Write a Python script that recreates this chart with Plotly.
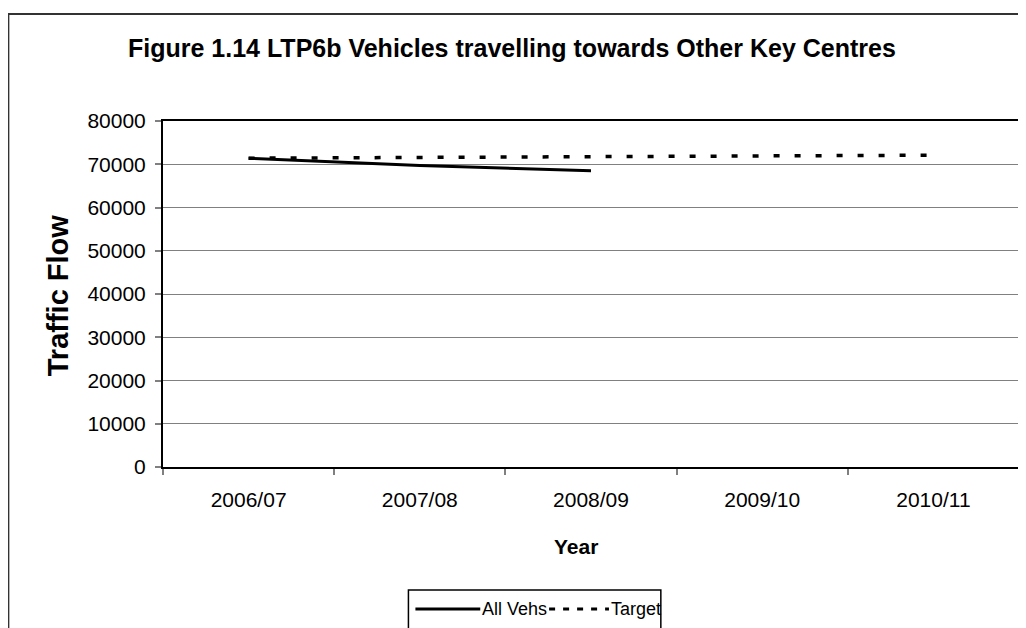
import plotly.graph_objects as go

categories = ["2006/07", "2007/08", "2008/09", "2009/10", "2010/11"]
all_vehs = [71400, 69700, 68500]
target = [71400, 71580, 71750, 71930, 72100]
y_ticks = [0, 10000, 20000, 30000, 40000, 50000, 60000, 70000, 80000]

OFF = 8  # page body margin in the browser
SW, SH = 1026, 628
W, H = SW - OFF, SH - OFF
# plot area in screen pixels
L, R, T, B = 163, 1021, 121, 467
FONT = "Liberation Sans, Arial, sans-serif"

def px(x):
    return (x - L) / (R - L)

def py(y):
    return (B - y) / (B - T)

fig = go.Figure()
fig.add_trace(go.Scatter(x=categories[:len(all_vehs)], y=all_vehs, mode="lines",
                         line=dict(color="black", width=3), name="All Vehs", showlegend=False))
fig.add_trace(go.Scatter(x=categories, y=target, mode="lines",
                         line=dict(color="black", width=3.5, dash="6px,15px"), name="Target", showlegend=False))

fig.update_layout(
    width=W, height=H,
    margin=dict(l=L - OFF, r=SW - R, t=T - OFF, b=SH - B),
    paper_bgcolor="white", plot_bgcolor="white",
    font=dict(family=FONT, color="black", size=21),
    showlegend=False,
)
fig.update_xaxes(type="category", categoryorder="array", categoryarray=categories,
                 range=[-0.5, len(categories) - 0.5],
                 showline=True, linecolor="black", linewidth=2, mirror=True,
                 ticks="outside", tickson="boundaries", ticklen=6, tickcolor="#808080", tickwidth=2,
                 showgrid=False, tickfont=dict(size=21), ticklabelstandoff=13)
fig.update_yaxes(range=[0, 80000], tickvals=y_ticks, ticktext=[str(v) for v in y_ticks],
                 showline=True, linecolor="black", linewidth=2, mirror=True,
                 ticks="outside", ticklen=6, tickcolor="#808080", tickwidth=2,
                 showgrid=True, gridcolor="#808080", gridwidth=1, zeroline=False,
                 tickfont=dict(size=21), ticklabelstandoff=5)

shapes = []
# outer chart border
shapes.append(dict(type="rect", xref="paper", yref="paper",
                   x0=px(8), x1=px(1040), y0=py(660), y1=py(14),
                   line=dict(color="#333333", width=2), fillcolor="rgba(0,0,0,0)", layer="below"))
# legend box
lx0, lx1, ly0 = 409, 662, 590
shapes.append(dict(type="rect", xref="paper", yref="paper",
                   x0=px(lx0), x1=px(lx1), y0=py(640), y1=py(ly0),
                   line=dict(color="black", width=1.5), fillcolor="white"))
ly = 609
shapes.append(dict(type="line", xref="paper", yref="paper",
                   x0=px(416), x1=px(481), y0=py(ly), y1=py(ly),
                   line=dict(color="black", width=3)))
shapes.append(dict(type="line", xref="paper", yref="paper",
                   x0=px(550), x1=px(610), y0=py(ly), y1=py(ly),
                   line=dict(color="black", width=3, dash="6px,8px")))
fig.update_layout(shapes=shapes)

ann = []
ann.append(dict(text="<b>Figure 1.14 LTP6b Vehicles travelling towards Other Key Centres</b>",
                xref="paper", yref="paper", x=px(513), y=py(48),
                xanchor="center", yanchor="middle", showarrow=False, font=dict(size=25)))
ann.append(dict(text="All Vehs", xref="paper", yref="paper", x=px(481), y=py(ly),
                xanchor="left", yanchor="middle", showarrow=False, font=dict(size=18)))
ann.append(dict(text="Target", xref="paper", yref="paper", x=px(610), y=py(ly),
                xanchor="left", yanchor="middle", showarrow=False, font=dict(size=18)))
ann.append(dict(text="<b>Traffic Flow</b>", xref="paper", yref="paper", x=px(58), y=py(295),
                xanchor="center", yanchor="middle", textangle=-90, showarrow=False,
                font=dict(size=29)))
ann.append(dict(text="<b>Year</b>", xref="paper", yref="paper", x=px(577), y=py(546),
                xanchor="center", yanchor="middle", showarrow=False, font=dict(size=21)))
fig.update_layout(annotations=ann)

fig.write_html("out.html")
